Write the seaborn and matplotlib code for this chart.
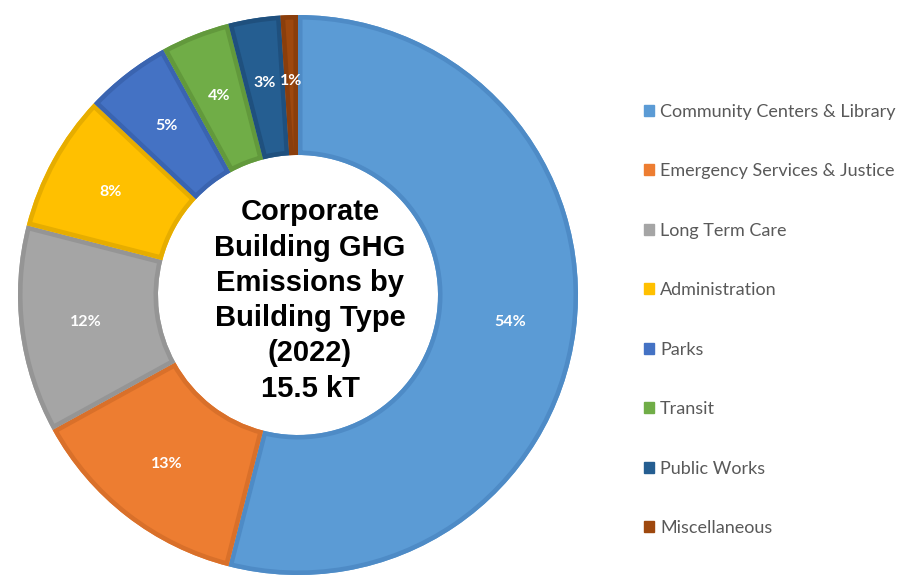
import matplotlib
matplotlib.use("Agg")
import matplotlib.pyplot as plt
from matplotlib.patches import Patch, Wedge
import seaborn as sns

# Building types, shares of 2022 corporate building GHG emissions (%)
categories = [
    "Community Centers & Library",
    "Emergency Services & Justice",
    "Long Term Care",
    "Administration",
    "Parks",
    "Transit",
    "Public Works",
    "Miscellaneous",
]
shares = [54, 13, 12, 8, 5, 4, 3, 1]
center_title = "Corporate\nBuilding GHG\nEmissions by\nBuilding Type\n(2022)\n15.5 kT"

fill_colors = ["#5B9BD5", "#ED7D31", "#A5A5A5", "#FFC000",
               "#4472C4", "#70AD47", "#255E91", "#9E480E"]
edge_colors = ["#4E8BC6", "#D9702A", "#959595", "#E6AD00",
               "#3A64B0", "#62993C", "#1F507E", "#8A3E0C"]

sns.set_theme(style="white")
plt.rcParams["font.family"] = ["Lato", "DejaVu Sans"]

fig = plt.figure(figsize=(9, 5.77), dpi=100)
fig.patch.set_facecolor("white")

# square axes box: 560 x 560 px centred on the donut
ax = fig.add_axes([18 / 900, 2 / 577, 560 / 900, 560 / 577])

palette = sns.color_palette(fill_colors)
wedges, _, autotexts = ax.pie(
    shares,
    colors=palette,
    startangle=90,
    counterclock=False,
    radius=1.0,
    autopct="%d%%",
    pctdistance=0.765,
    wedgeprops=dict(width=0.5, linewidth=0),
    textprops=dict(color="white", fontsize=11.5, fontweight="bold"),
    frame=True,
)
ax.set_xlim(-1, 1)
ax.set_ylim(-1, 1)
ax.set_axis_off()

# inset borders: an outline copy of each wedge, clipped to the wedge
for w, ec in zip(wedges, edge_colors):
    outline = Wedge(w.center, w.r, w.theta1, w.theta2, width=w.width,
                    facecolor="none", edgecolor=ec, linewidth=6.5,
                    zorder=w.get_zorder() + 0.1)
    ax.add_patch(outline)
    outline.set_clip_path(w)
for t in autotexts:
    t.set_zorder(5)

ax.text(0.043, -0.02, center_title, ha="center", va="center",
        fontsize=21, fontweight="bold", color="black",
        family=["Liberation Sans", "DejaVu Sans"], linespacing=1.33)

handles = [Patch(facecolor=c, edgecolor=c) for c in fill_colors]
fig.legend(
    handles, categories,
    loc="center left",
    bbox_to_anchor=(644 / 900, 1 - 320 / 577),
    frameon=False,
    borderpad=0, borderaxespad=0,
    handlelength=0.55, handleheight=0.55, handletextpad=0.35,
    labelspacing=2.41,
    prop=dict(family=["Lato", "DejaVu Sans"], size=13),
    labelcolor="#595959",
)

fig.savefig("out.png", dpi=100, facecolor="white")
